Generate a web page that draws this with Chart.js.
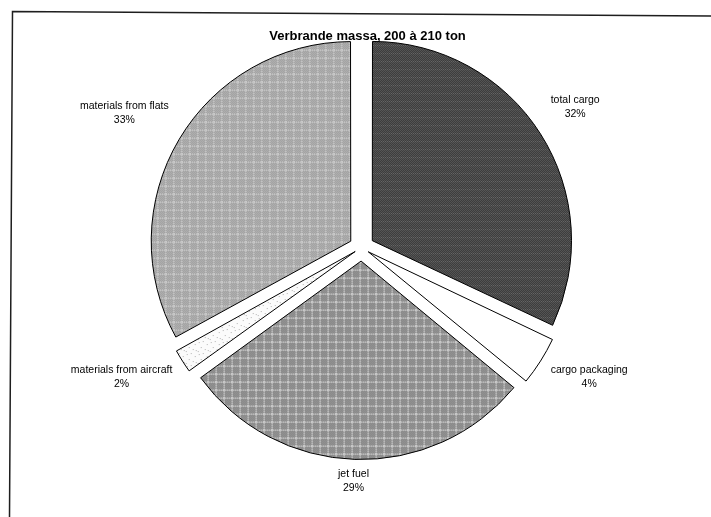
<!DOCTYPE html>
<html>
<head>
<meta charset="utf-8">
<script src="https://cdn.jsdelivr.net/npm/chart.js@4/dist/chart.umd.min.js"></script>
<style>
  html, body { margin: 0; padding: 0; background: #ffffff; }
  #wrap { width: 711px; height: 517px; position: relative; }
  canvas { display: block; }
</style>
</head>
<body>
<div id="wrap"><canvas id="c" width="711" height="517"></canvas></div>
<script>
// Burnt mass breakdown, shares in percent
const chartTitle = 'Verbrande massa, 200 à 210 ton';
const categories = ['total cargo', 'cargo packaging', 'jet fuel', 'materials from aircraft', 'materials from flats'];
const shares = [32, 4, 29, 2, 33];

const PIE_RADIUS = 198;   // px
const EXPLODE = 14;       // px each slice is pulled out from the centre
const LABEL_GAP = 12;     // px between slice edge and label anchor
const LABEL_HALF_H = 15;  // px vertical clearance of a two-line label
const LABEL_RAISE = 5;    // px all labels sit a little higher

const canvas = document.getElementById('c');
const ctx2d = canvas.getContext('2d');

// Halftone-like fill textures
function tile(size, paint) {
  const t = document.createElement('canvas');
  t.width = size; t.height = size;
  const g = t.getContext('2d');
  paint(g, size);
  return ctx2d.createPattern(t, 'repeat');
}
function px(g, x, y, c) { g.fillStyle = c; g.fillRect(x, y, 1, 1); }

const darkFill = tile(8, (g, s) => {
  for (let y = 0; y < s; y++) for (let x = 0; x < s; x++)
    px(g, x, y, (x + y) % 2 ? '#2c2c2c' : '#666666');
  for (let x = 0; x < s; x += 2) px(g, x, 4, '#808080');
});
const jetFill = tile(8, (g, s) => {
  for (let y = 0; y < s; y++) for (let x = 0; x < s; x++)
    px(g, x, y, (x + y) % 2 ? '#6a6a6a' : '#b2b2b2');
  for (let i = 0; i < s; i++) {
    px(g, i, 0, i % 2 ? '#e2e2e2' : '#a8a8a8');
    px(g, 0, i, i % 2 ? '#e2e2e2' : '#a8a8a8');
  }
});
const flatsFill = tile(8, (g, s) => {
  for (let y = 0; y < s; y++) for (let x = 0; x < s; x++)
    px(g, x, y, (x + y) % 2 ? '#8c8c8c' : '#c6c6c6');
  for (let i = 0; i < s; i++) {
    px(g, i, 0, i % 2 ? '#d2d2d2' : '#b4b4b4');
    px(g, 0, i, i % 2 ? '#d2d2d2' : '#b4b4b4');
  }
});
const speckFill = tile(12, (g, s) => {
  g.fillStyle = '#fbfbfb'; g.fillRect(0, 0, s, s);
  [[1, 2], [5, 1], [9, 4], [3, 7], [7, 9], [10, 10], [0, 11]].forEach(([x, y]) => px(g, x, y, '#b4b4b4'));
});
const sliceFills = [darkFill, '#ffffff', jetFill, speckFill, flatsFill];

// Chart.js moves an arc by offset/4 * (2 - sin(circumference)); pick per-slice
// offsets so every slice ends up the same distance out
const totalShare = shares.reduce((a, b) => a + b, 0);
const sliceOffsets = shares.map(v => {
  const circ = v / totalShare * Math.PI * 2;
  return 4 * EXPLODE / (2 - Math.sin(Math.min(Math.PI, circ)));
});

const framePlugin = {
  id: 'frame',
  beforeDraw(chart) {
    const c = chart.ctx;
    c.save();
    c.strokeStyle = '#1e1e1e';
    c.lineWidth = 1.5;
    c.beginPath();
    c.moveTo(711, 16);
    c.lineTo(12.5, 11.5);
    c.lineTo(9.5, 517);
    c.stroke();
    c.restore();
  }
};

const sliceLabels = {
  id: 'sliceLabels',
  afterDatasetsDraw(chart) {
    const c = chart.ctx;
    const meta = chart.getDatasetMeta(0);
    c.save();
    c.font = '10.5px "Liberation Sans", Arial, sans-serif';
    c.fillStyle = '#000';
    c.textAlign = 'center';
    c.textBaseline = 'middle';
    const lh = 14;
    meta.data.forEach((arc, i) => {
      const p = arc.getProps(['x', 'y', 'startAngle', 'endAngle', 'outerRadius'], true);
      const mid = (p.startAngle + p.endAngle) / 2;
      const dx = Math.cos(mid), dy = Math.sin(mid);
      const lines = [categories[i], Math.round(shares[i] / totalShare * 100) + '%'];
      const hw = Math.max(...lines.map(t => c.measureText(t).width)) / 2;
      const r = p.outerRadius + EXPLODE + LABEL_GAP;
      const sx = Math.sign(dx) * Math.min(1, Math.abs(dx) * 2);
      const sy = Math.sign(dy) * Math.min(1, Math.abs(dy) * 2);
      const cx = p.x + dx * r + hw * sx;
      const cy = p.y + dy * r + LABEL_HALF_H * sy - LABEL_RAISE;
      lines.forEach((t, j) => c.fillText(t, cx, cy + (j - (lines.length - 1) / 2) * lh));
    });
    c.restore();
  }
};

const titlePlugin = {
  id: 'pieTitle',
  afterDraw(chart) {
    const c = chart.ctx;
    const ca = chart.chartArea;
    c.save();
    c.font = 'bold 13px "Liberation Sans", Arial, sans-serif';
    c.fillStyle = '#000';
    c.textAlign = 'center';
    c.textBaseline = 'middle';
    c.fillText(chartTitle, (ca.left + ca.right) / 2 + 6, 36);
    c.restore();
  }
};

new Chart(canvas, {
  type: 'pie',
  data: {
    labels: categories,
    datasets: [{
      data: shares,
      backgroundColor: sliceFills,
      borderColor: '#000000',
      borderWidth: 1,
      offset: sliceOffsets,
      hoverOffset: 0,
      radius: PIE_RADIUS
    }]
  },
  options: {
    responsive: false,
    animation: false,
    events: [],
    layout: { padding: { left: 12, right: 0, top: 0, bottom: 22 } },
    plugins: {
      legend: { display: false },
      title: { display: false },
      tooltip: { enabled: false }
    }
  },
  plugins: [framePlugin, sliceLabels, titlePlugin]
});
</script>
</body>
</html>
